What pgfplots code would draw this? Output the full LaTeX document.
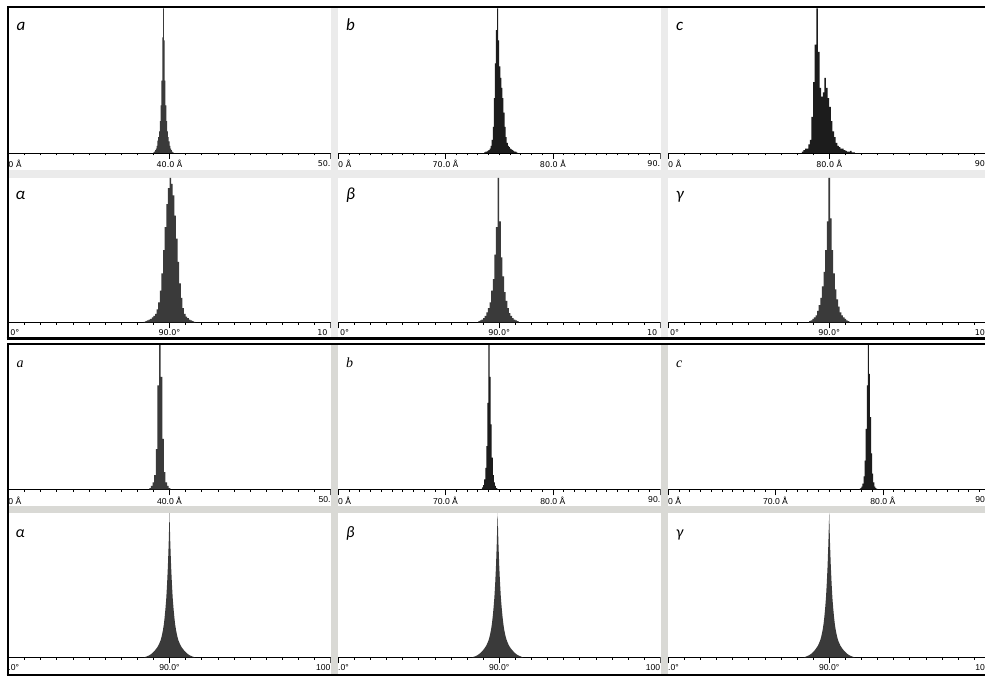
\documentclass[border=0pt]{standalone}
\usepackage{pgfplots}
\pgfplotsset{compat=1.18}
\usepackage{fontspec}
\setmainfont{DejaVu Sans}
\newfontfamily\libsans{Liberation Sans}
\newfontfamily\carlito{Carlito}
\newfontfamily\libserif{Liberation Serif}
\definecolor{topgray}{HTML}{EBEBEB}
\definecolor{botgray}{HTML}{D9D9D5}
\definecolor{barc}{HTML}{3A3A3A}
\definecolor{barb}{HTML}{1C1C1C}
\pgfplotsset{
  panel/.style={scale only axis, width=322pt, height=144.5pt, anchor=south west,
    ymin=0, ymax=100, axis y line=none, axis x line*=bottom, ytick=\empty,
    minor x tick num=9, xtick align=outside, major tick length=6pt, minor tick length=2.5pt,
    x axis line style={line width=0.8pt}, tick style={black, line width=0.6pt},
    xticklabel style={inner sep=1pt}},
  toplab/.style={xticklabel style={font=\fontsize{8}{9}\selectfont}},
  botlab/.style={xticklabel style={font=\libsans\fontsize{8.6}{9.5}\selectfont}},
  hist/.style={ybar interval, fill=barc, draw=none},
  histb/.style={ybar interval=0.8, fill=barb, draw=none},
  sm/.style={fill=barc, draw=none},
}
\newcommand{\lft}[1]{\makebox[0pt][l]{#1}}
\newcommand{\rgt}[1]{\makebox[0pt][r]{#1}}
\newcommand{\toplabel}[1]{{\carlito\itshape\fontsize{17}{17}\selectfont #1}}
\newcommand{\botlabel}[1]{{\libserif\itshape\fontsize{14}{14}\selectfont #1}}
\newcommand{\botgreek}[1]{{\carlito\itshape\fontsize{16}{16}\selectfont #1}}
\begin{document}
\begin{tikzpicture}
\fill[white] (0pt,0pt) rectangle (985pt,677pt);
% separators top block
\fill[topgray] (8.5pt,499.3pt) rectangle (985pt,507pt);
\fill[topgray] (330.5pt,339.5pt) rectangle (337.8pt,669pt);
\fill[topgray] (660.5pt,339.5pt) rectangle (668.2pt,669pt);
% separators bottom block
\fill[botgray] (8.5pt,163.7pt) rectangle (985pt,171pt);
\fill[botgray] (330.5pt,2pt) rectangle (337.8pt,333pt);
\fill[botgray] (660.5pt,2pt) rectangle (668.2pt,333pt);

% ===== TOP BLOCK, ROW 1 =====
\begin{scope}
\clip (8.7pt,507pt) rectangle (330.5pt,669pt);
\begin{axis}[panel, toplab, at={(8.5pt,524pt)}, xmin=30, xmax=50, xtick={30,40,50},
  xticklabels={{\lft{0 Å}},40.0 Å,{\rgt{50.}}}]
\addplot[hist] coordinates {(39.00,0.5)(39.05,1)(39.10,2)(39.15,3)(39.20,5)(39.25,8.5)(39.30,11)(39.35,15)(39.40,22)(39.45,33)(39.50,50)(39.55,80)(39.60,100)(39.65,78)(39.70,50)(39.75,33)(39.80,22)(39.85,15)(39.90,11)(39.95,8)(40.00,5)(40.05,3)(40.10,2)(40.15,1)(40.20,0.5)(40.25,0)};
\end{axis}
\end{scope}
\begin{scope}
\clip (337.8pt,507pt) rectangle (660.5pt,669pt);
\begin{axis}[panel, toplab, at={(338.2pt,524pt)}, xmin=60, xmax=90, xtick={60,70,80,90},
  xticklabels={{\lft{0 Å}},70.0 Å,80.0 Å,{\rgt{90.}}}]
\addplot[histb] coordinates {(73.6,0.5)(73.7,1)(73.8,1)(73.9,1.5)(74.0,2)(74.1,3)(74.2,5)(74.3,9)(74.4,18)(74.5,38)(74.6,62)(74.7,85)(74.8,100)(74.9,78)(75.0,60)(75.1,52)(75.2,45)(75.3,38)(75.4,28)(75.5,18)(75.6,11)(75.7,7)(75.8,5)(75.9,4)(76.0,3)(76.1,2.5)(76.2,2)(76.3,1.5)(76.4,1)(76.5,1)(76.6,0.5)(76.7,0)};
\end{axis}
\end{scope}
\begin{scope}
\clip (668.2pt,507pt) rectangle (985pt,669pt);
\begin{axis}[panel, toplab, at={(668.2pt,524pt)}, xmin=70, xmax=90, xtick={70,80,90},
  xticklabels={{\lft{0 Å}},80.0 Å,{\rgt{90\hspace{5.2pt}}}}]
\addplot[histb] coordinates {(78.3,1)(78.4,2)(78.5,3)(78.6,3)(78.7,6)(78.8,9)(78.9,25)(79.0,49)(79.1,75)(79.2,100)(79.3,70)(79.4,45)(79.5,39)(79.6,42)(79.7,52)(79.8,45)(79.9,38)(80.0,32)(80.1,22)(80.2,15)(80.3,11)(80.4,7)(80.5,5)(80.6,4)(80.7,3)(80.8,3)(80.9,2)(81.0,1.5)(81.1,1)(81.2,1)(81.3,1.5)(81.4,0.5)(81.5,0.5)(81.6,0)};
\end{axis}
\end{scope}

% ===== TOP BLOCK, ROW 2 =====
\begin{scope}
\clip (8.7pt,339.7pt) rectangle (330.5pt,499.3pt);
\begin{axis}[panel, toplab, at={(8.5pt,354.5pt)}, xmin=80, xmax=100, xtick={80,90,100},
  xticklabels={{\lft{\hspace{1.8pt}0°}},90.0°,{\rgt{10\hspace{3pt}}}}]
\addplot[hist] coordinates {(88.4,0.5)(88.5,1)(88.6,1.5)(88.7,2)(88.8,2.5)(88.9,3.5)(89.0,4.5)(89.1,6)(89.2,9)(89.3,14)(89.4,22)(89.5,34)(89.6,50)(89.7,66)(89.8,82)(89.9,93)(90.0,100)(90.1,96)(90.2,88)(90.3,74)(90.4,58)(90.5,42)(90.6,27)(90.7,17)(90.8,10)(90.9,6)(91.0,4)(91.1,3)(91.2,2)(91.3,1.5)(91.4,1)(91.5,0.5)(91.6,0)};
\end{axis}
\end{scope}
\begin{scope}
\clip (337.8pt,339.7pt) rectangle (660.5pt,499.3pt);
\begin{axis}[panel, toplab, at={(338.2pt,354.5pt)}, xmin=80, xmax=100, xtick={80,90,100},
  xticklabels={{\lft{\hspace{1.8pt}0°}},90.0°,{\rgt{10\hspace{3pt}}}}]
\addplot[hist] coordinates {(88.7,1)(88.8,1.5)(88.9,2)(89.0,3)(89.1,4.5)(89.2,7)(89.3,10)(89.4,14)(89.5,22)(89.6,30)(89.7,47)(89.8,66)(89.9,100)(90.0,70)(90.1,45)(90.2,32)(90.3,21)(90.4,15)(90.5,10)(90.6,6.5)(90.7,4.5)(90.8,3)(90.9,2)(91.0,1.5)(91.1,1)(91.2,0)};
\end{axis}
\end{scope}
\begin{scope}
\clip (668.2pt,339.7pt) rectangle (985pt,499.3pt);
\begin{axis}[panel, toplab, at={(668.2pt,354.5pt)}, xmin=80, xmax=100, xtick={80,90,100},
  xticklabels={{\lft{\hspace{1.8pt}0°}},90.0°,{\rgt{10\hspace{5.2pt}}}}]
\addplot[hist] coordinates {(88.75,1)(88.85,1.5)(88.95,2.5)(89.05,3.5)(89.15,5)(89.25,8)(89.35,12)(89.45,17)(89.55,25)(89.65,35)(89.75,50)(89.85,70)(89.95,100)(90.05,72)(90.15,50)(90.25,34)(90.35,23)(90.45,16)(90.55,11)(90.65,7)(90.75,5)(90.85,3.5)(90.95,2.5)(91.05,1.5)(91.15,1)(91.25,0)};
\end{axis}
\end{scope}

% ===== BOTTOM BLOCK, ROW 1 =====
\begin{scope}
\clip (8.7pt,171pt) rectangle (330.5pt,332.5pt);
\begin{axis}[panel, botlab, at={(8.5pt,187.5pt)}, xmin=30, xmax=50, xtick={30,40,50},
  xticklabels={{\lft{0 Å}},40.0 Å,{\rgt{50.}}}]
\addplot[hist] coordinates {(38.75,1)(38.85,2.5)(38.95,5)(39.05,10)(39.15,28)(39.25,72)(39.35,100)(39.45,78)(39.55,35)(39.65,12)(39.75,5)(39.85,2.5)(39.95,1)(40.05,0)};
\end{axis}
\end{scope}
\begin{scope}
\clip (337.8pt,171pt) rectangle (660.5pt,332.5pt);
\begin{axis}[panel, botlab, at={(338.2pt,187.5pt)}, xmin=60, xmax=90, xtick={60,70,80,90},
  xticklabels={{\lft{0 Å}},70.0 Å,80.0 Å,{\rgt{90.}}}]
\addplot[histb] coordinates {(73.3,0.5)(73.4,1.5)(73.5,3)(73.6,7)(73.7,15)(73.8,30)(73.9,60)(74.0,100)(74.1,78)(74.2,45)(74.3,22)(74.4,10)(74.5,5)(74.6,2.5)(74.7,1)(74.8,0.5)(74.9,0)};
\end{axis}
\end{scope}
\begin{scope}
\clip (668.2pt,171pt) rectangle (985pt,332.5pt);
\begin{axis}[panel, botlab, at={(668.2pt,187.5pt)}, xmin=60, xmax=90, xtick={60,70,80,90},
  xticklabels={{\lft{0 Å}},70.0 Å,80.0 Å,{\rgt{90\hspace{5.2pt}}}}]
\addplot[histb] coordinates {(77.8,0.5)(77.9,1)(78.0,2)(78.1,4)(78.2,9)(78.3,20)(78.4,42)(78.5,72)(78.6,100)(78.7,80)(78.8,50)(78.9,25)(79.0,11)(79.1,5)(79.2,2)(79.3,1)(79.4,0.5)(79.5,0)};
\end{axis}
\end{scope}

% ===== BOTTOM BLOCK, ROW 2 =====
\begin{scope}
\clip (8.7pt,3pt) rectangle (330.5pt,163.7pt);
\begin{axis}[panel, botlab, at={(8.5pt,19.5pt)}, xmin=80, xmax=100, xtick={80,90,100},
  xticklabels={{\lft{.0°}},90.0°,{\rgt{100}}}]
\addplot[sm] coordinates {(88.4,0)(88.5,0.4)(88.6,0.8)(88.7,1.3)(88.8,1.9)(88.9,2.7)(89.0,3.8)(89.1,5)(89.2,6.4)(89.3,8.1)(89.4,10.6)(89.45,12)(89.5,14)(89.55,16.5)(89.6,19.4)(89.65,23)(89.7,28)(89.75,34)(89.8,41)(89.85,51)(89.9,63)(89.95,79)(90.0,100)(90.05,79)(90.1,63)(90.15,51)(90.2,41)(90.25,34)(90.3,28)(90.35,23)(90.4,19.4)(90.45,16.5)(90.5,14)(90.55,12)(90.6,10.6)(90.7,8.1)(90.8,6.4)(90.9,5)(91.0,3.8)(91.1,2.7)(91.2,1.9)(91.3,1.3)(91.4,0.8)(91.5,0.4)(91.6,0)} \closedcycle;
\end{axis}
\end{scope}
\begin{scope}
\clip (337.8pt,3pt) rectangle (660.5pt,163.7pt);
\begin{axis}[panel, botlab, at={(338.2pt,19.5pt)}, xmin=80, xmax=100, xtick={80,90,100},
  xticklabels={{\lft{.0°}},90.0°,{\rgt{100}}}]
\addplot[sm] coordinates {(88.3,0)(88.4,0.4)(88.5,0.8)(88.6,1.3)(88.7,2)(88.8,2.8)(88.9,3.9)(89.0,5.1)(89.1,6.6)(89.2,8.3)(89.3,10.8)(89.35,12.3)(89.4,14.3)(89.45,16.8)(89.5,19.8)(89.55,23.5)(89.6,28.5)(89.65,34.5)(89.7,41.5)(89.75,51)(89.8,63)(89.85,79)(89.9,100)(89.95,80)(90.0,64)(90.05,52)(90.1,42)(90.15,35)(90.2,29)(90.25,24)(90.3,20)(90.35,17)(90.4,14.5)(90.45,12.5)(90.5,11)(90.6,8.4)(90.7,6.6)(90.8,5.2)(90.9,4)(91.0,2.9)(91.1,2)(91.2,1.4)(91.3,0.9)(91.4,0.4)(91.5,0)} \closedcycle;
\end{axis}
\end{scope}
\begin{scope}
\clip (668.2pt,3pt) rectangle (985pt,163.7pt);
\begin{axis}[panel, botlab, at={(668.2pt,19.5pt)}, xmin=80, xmax=100, xtick={80,90,100},
  xticklabels={{\lft{.0°}},90.0°,{\rgt{10\hspace{5.2pt}}}}]
\addplot[sm] coordinates {(88.4,0)(88.5,0.4)(88.6,0.8)(88.7,1.3)(88.8,1.9)(88.9,2.7)(89.0,3.8)(89.1,5)(89.2,6.5)(89.3,8.2)(89.4,10.7)(89.45,12.2)(89.5,14.2)(89.55,16.7)(89.6,19.6)(89.65,23.3)(89.7,28.3)(89.75,34.3)(89.8,41.5)(89.85,51.5)(89.9,63.5)(89.95,79.5)(90.0,100)(90.05,79)(90.1,63)(90.15,51)(90.2,41)(90.25,34)(90.3,28)(90.35,23)(90.4,19.4)(90.45,16.5)(90.5,14)(90.55,12)(90.6,10.6)(90.7,8.1)(90.8,6.4)(90.9,5)(91.0,3.8)(91.1,2.7)(91.2,1.9)(91.3,1.3)(91.4,0.8)(91.5,0.4)(91.6,0)} \closedcycle;
\end{axis}
\end{scope}

% frames
\draw[line width=2pt] (7.7pt,337pt) -- (7.7pt,670pt) -- (985pt,670pt);
\draw[line width=2.6pt] (6.7pt,338.4pt) -- (985pt,338.4pt);
\draw[line width=2.2pt] (7.7pt,1pt) -- (7.7pt,333.2pt) -- (985pt,333.2pt);
\draw[line width=2pt] (6.7pt,1.8pt) -- (985pt,1.8pt);

% panel labels
\node[anchor=base west, inner sep=0] at (16.5pt,646pt) {\toplabel{a}};
\node[anchor=base west, inner sep=0] at (346pt,646pt) {\toplabel{b}};
\node[anchor=base west, inner sep=0] at (676pt,646pt) {\toplabel{c}};
\node[anchor=base west, inner sep=0] at (15.5pt,477pt) {\toplabel{α}};
\node[anchor=base west, inner sep=0] at (346pt,477pt) {\toplabel{β}};
\node[anchor=base west, inner sep=0] at (676pt,477pt) {\toplabel{γ}};
\node[anchor=base west, inner sep=0] at (16.5pt,309pt) {\botlabel{a}};
\node[anchor=base west, inner sep=0] at (346pt,309pt) {\botlabel{b}};
\node[anchor=base west, inner sep=0] at (676pt,309pt) {\botlabel{c}};
\node[anchor=base west, inner sep=0] at (15.5pt,139pt) {\botgreek{α}};
\node[anchor=base west, inner sep=0] at (346pt,139pt) {\botgreek{β}};
\node[anchor=base west, inner sep=0] at (676pt,139pt) {\botgreek{γ}};
\pgfresetboundingbox
\useasboundingbox (0pt,0pt) rectangle (985pt,677pt);
\end{tikzpicture}
\end{document}
